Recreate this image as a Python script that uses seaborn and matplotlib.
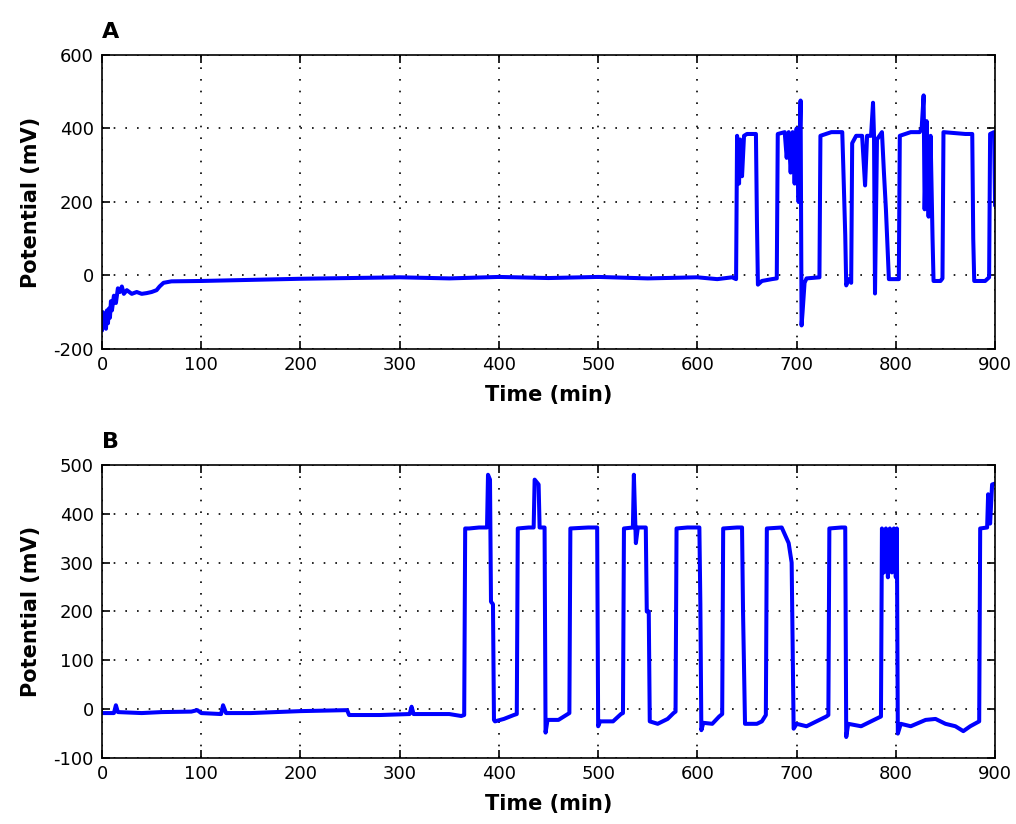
import pandas as pd
import seaborn as sns
import matplotlib.pyplot as plt

# Panel A: potential trace (time in min, potential in mV)
a_time = [0, 1, 2, 3, 4, 5, 6, 7, 8, 9, 10, 12, 14, 16, 18, 20, 22, 25, 30, 35, 40,
          45, 50, 55, 58, 62, 70, 100, 150, 200, 250, 300, 350, 400, 450, 500, 550,
          600, 620, 635, 639,
          640, 642, 643, 645, 647, 650, 659, 660, 661, 665, 675, 680,
          681, 688, 690, 692, 694, 696, 698, 700, 702, 703, 704, 705, 706, 708, 710, 723,
          724, 735, 746, 747, 749, 750, 752, 755, 756, 760, 766, 769, 771, 775, 777, 778,
          779, 781, 786, 788, 790, 793, 803,
          804, 815, 824, 826, 828, 829, 831, 833, 835, 837, 838, 845, 847,
          848, 870, 877, 878, 879, 890, 894,
          895, 899, 900]
a_mv = [-150, -100, -140, -110, -145, -95, -130, -90, -115, -70, -95, -55, -75, -35, -45, -30,
        -50, -40, -50, -45, -50, -48, -45, -40, -30, -20, -16, -15, -12, -9, -7, -5, -8, -4,
        -7, -4, -8, -5, -10, -5, -10,
        380, 250, 370, 270, 380, 385, 385, 150, -25, -15, -10, -8,
        385, 390, 320, 390, 280, 390, 250, 400, 200, 350, 476, -136, -100, -20, -8, -5,
        380, 390, 390, 300, 110, -27, -10, -20, 360, 380, 380, 245, 380, 380, 470, 380,
        -49, 370, 390, 280, 180, -10, -10,
        380, 390, 390, 400, 490, 180, 420, 160, 380, 100, -15, -15, -8,
        390, 385, 385, 100, -15, -15, -5,
        385, 390, 190]

# Panel B
b_time = [0, 12, 14, 16, 40, 60, 90, 96, 100, 120, 122, 125, 150, 200, 247, 249, 280, 310,
          312, 314, 350, 362, 365,
          366, 370, 380, 388, 389, 391, 392, 394, 395, 396, 405, 415, 418,
          419, 430, 435, 436, 440, 441, 446, 447, 449, 460, 468, 471,
          472, 490, 499, 500, 502, 515, 523, 525,
          526, 535, 536, 538, 540, 548, 549, 551, 552, 560, 570, 576, 578,
          579, 590, 602, 603, 604, 606, 615, 622, 625,
          626, 640, 645, 646, 648, 660, 665, 669,
          670, 685, 692, 695, 697, 700, 710, 720, 730, 732,
          733, 745, 749, 750, 752, 765, 775, 785,
          786, 788, 790, 792, 794, 796, 798, 800, 801, 802, 805, 815, 830, 840, 850, 860,
          868, 875, 884,
          885, 892, 893, 895, 897, 900]
b_mv = [-8, -8, 8, -6, -8, -6, -5, -2, -8, -10, 8, -8, -8, -4, -2, -12, -12, -10,
        5, -10, -10, -14, -12,
        370, 370, 372, 372, 480, 470, 220, 215, -22, -25, -20, -12, -10,
        370, 372, 372, 470, 460, 372, 372, -48, -22, -22, -12, -8,
        370, 372, 372, -35, -25, -25, -10, -8,
        370, 372, 480, 340, 372, 372, 200, 200, -25, -30, -20, -8, -5,
        370, 372, 372, 215, -43, -28, -30, -15, -10,
        370, 372, 372, 200, -30, -30, -25, -12,
        370, 372, 340, 300, -40, -30, -35, -25, -15, -12,
        370, 372, 372, -57, -30, -35, -25, -15,
        370, 280, 370, 270, 370, 280, 370, 270, 370, -50, -30, -35, -22, -20, -30, -35,
        -45, -35, -25,
        370, 372, 440, 380, 460, 462]

sns.set_style("ticks")
plt.rcParams['font.family'] = ['DejaVu Sans']
plt.rcParams['axes.unicode_minus'] = False
plt.rcParams['text.color'] = 'black'
plt.rcParams['axes.labelcolor'] = 'black'

fig = plt.figure(figsize=(10.16, 8.24), dpi=100)
ax_a = fig.add_axes([0.1004, 0.5765, 0.879, 0.3568])
ax_b = fig.add_axes([0.1004, 0.0801, 0.879, 0.3556])

panels = [
    (ax_a, a_time, a_mv, 'A', (-200, 600), range(-200, 601, 200)),
    (ax_b, b_time, b_mv, 'B', (-100, 500), range(-100, 501, 100)),
]

for ax, t, mv, tag, ylim, yticks in panels:
    df = pd.DataFrame({'time': t, 'mv': mv})
    sns.lineplot(data=df, x='time', y='mv', sort=False, estimator=None,
                 color='#0000FF', linewidth=2.9, ax=ax)
    ax.set_xlim(0, 900)
    ax.set_ylim(*ylim)
    ax.set_xticks(range(0, 901, 100))
    ax.set_yticks(list(yticks))
    ax.grid(True, color='black', linestyle=(0, (1, 6)), linewidth=1.2)
    ax.tick_params(direction='in', top=True, right=True, length=6, width=1.2,
                   labelsize=13, colors='black')
    ax.tick_params(axis='x', pad=5)
    ax.tick_params(axis='y', pad=6)
    for s in ax.spines.values():
        s.set_visible(True)
        s.set_color('black')
        s.set_linewidth(1.2)
    ax.set_xlabel('Time (min)', fontsize=15, fontweight='bold', labelpad=8)
    ax.set_ylabel('Potential (mV)', fontsize=15, fontweight='bold', labelpad=9)
    ax.set_title(tag, loc='left', pad=12, fontsize=16, fontweight='bold')

fig.savefig('out.png', dpi=100)
